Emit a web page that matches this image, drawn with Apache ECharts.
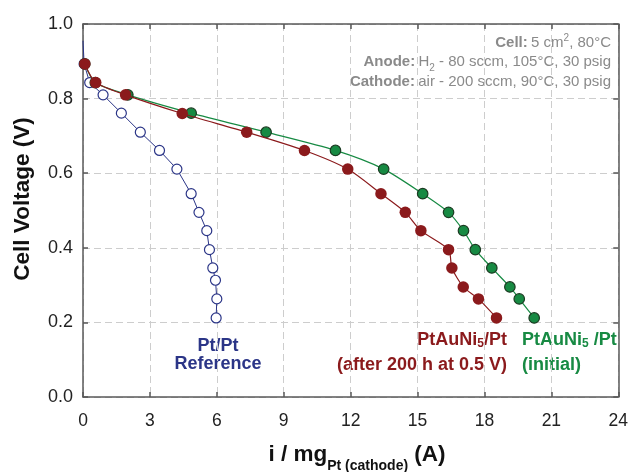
<!DOCTYPE html>
<html>
<head>
<meta charset="utf-8">
<script src="https://cdn.jsdelivr.net/npm/echarts@6/dist/echarts.min.js"></script>
<style>
html,body{margin:0;padding:0;background:#fff;}
#c{width:631px;height:472px;}
</style>
</head>
<body>
<div id="c"></div>
<script>
// ---- data ----
var xTicks = [0, 3, 6, 9, 12, 15, 18, 21, 24];
var yTicks = [0.0, 0.2, 0.4, 0.6, 0.8, 1.0];

// Pt/Pt reference (open circles)
var refX = [0.0, 0.05, 0.30, 0.90, 1.72, 2.57, 3.43, 4.21, 4.85, 5.20, 5.55, 5.67, 5.82, 5.94, 6.00, 5.97];
var refV = [0.955, 0.893, 0.843, 0.810, 0.761, 0.710, 0.661, 0.611, 0.545, 0.495, 0.446, 0.395, 0.346, 0.313, 0.263, 0.212];

// PtAuNi5/Pt initial (green)
var iniX = [0.08, 0.55, 2.01, 4.85, 8.21, 11.32, 13.48, 15.23, 16.39, 17.06, 17.59, 18.33, 19.14, 19.56, 20.23];
var iniV = [0.893, 0.843, 0.810, 0.761, 0.710, 0.661, 0.611, 0.545, 0.495, 0.446, 0.395, 0.346, 0.295, 0.263, 0.212];

// PtAuNi5/Pt after 200 h at 0.5 V (dark red)
var agedX = [0.08, 0.57, 1.91, 4.45, 7.34, 9.93, 11.87, 13.36, 14.45, 15.15, 16.39, 16.54, 17.05, 17.73, 18.54];
var agedV = [0.893, 0.843, 0.810, 0.760, 0.710, 0.661, 0.611, 0.545, 0.495, 0.446, 0.395, 0.346, 0.295, 0.263, 0.212];

function pairs(xs, ys) { return xs.map(function (x, i) { return [x, ys[i]]; }); }

var NAVY = '#2b3587', RED = '#8b1a1c', GREEN = '#178a43';
var FONT = '"Liberation Sans", Arial, Helvetica, sans-serif';
var FRAME = '#5a5a5a';
var NOTE = '#8a8a8a';

var refData = pairs(refX, refV).map(function (p, i) {
  return i === 0 ? { value: p, symbol: 'none' } : p;
});

var chart = echarts.init(document.getElementById('c'), null, { renderer: 'canvas' });

var axisCommon = {
  type: 'value',
  axisLine: { show: true, onZero: false, lineStyle: { color: FRAME, width: 1.5 } },
  axisTick: { show: true, inside: true, length: 5, lineStyle: { color: FRAME, width: 1.5 } },
  splitLine: { show: false }
};

var noteRich = {
  b: { fontSize: 15, fontWeight: 'bold', fontFamily: FONT, fill: NOTE, lineHeight: 19 },
  n: { fontSize: 15, fontFamily: FONT, fill: NOTE, lineHeight: 19 },
  p: { fontSize: 10, fontFamily: FONT, fill: NOTE, lineHeight: 11, verticalAlign: 'top' },
  s: { fontSize: 10, fontFamily: FONT, fill: NOTE, lineHeight: 11, verticalAlign: 'bottom', padding: [0, 0, -2, 0] }
};

function labelRich(color) {
  return {
    a: { fontSize: 18, fontWeight: 'bold', fontFamily: FONT, fill: color, lineHeight: 25 },
    s: { fontSize: 12, fontWeight: 'bold', fontFamily: FONT, fill: color, lineHeight: 12, verticalAlign: 'bottom', padding: [0, 0, 3, 0] }
  };
}

var option = {
  animation: false,
  backgroundColor: '#fff',
  grid: { left: 83, right: 12, top: 24, bottom: 75, containLabel: false },
  xAxis: [
    Object.assign({}, axisCommon, {
      position: 'bottom', min: xTicks[0], max: xTicks[xTicks.length - 1], interval: 3,
      axisLabel: { show: true, color: '#222', fontSize: 17.5, fontFamily: FONT, margin: 15 },
      splitLine: { show: true, lineStyle: { color: '#cdcdcd', width: 1, type: [7, 4] } }
    }),
    Object.assign({}, axisCommon, {
      position: 'top', min: xTicks[0], max: xTicks[xTicks.length - 1], interval: 3,
      axisLabel: { show: false }
    })
  ],
  yAxis: [
    Object.assign({}, axisCommon, {
      position: 'left', min: yTicks[0], max: yTicks[yTicks.length - 1], interval: 0.2,
      axisLabel: { show: true, color: '#222', fontSize: 18, fontFamily: FONT, margin: 10,
        formatter: function (v) { return v.toFixed(1); } },
      splitLine: { show: true, lineStyle: { color: '#cdcdcd', width: 1, type: [7, 4] } }
    }),
    Object.assign({}, axisCommon, {
      position: 'right', min: yTicks[0], max: yTicks[yTicks.length - 1], interval: 0.2,
      axisLabel: { show: false }
    })
  ],
  series: [
    {
      name: 'Pt/Pt Reference', type: 'line', data: refData, z: 2,
      symbol: 'circle', symbolSize: 10, showAllSymbol: true,
      itemStyle: { color: '#fff', borderColor: NAVY, borderWidth: 1.2 },
      lineStyle: { color: NAVY, width: 1 }
    },
    {
      name: 'PtAuNi5/Pt (initial)', type: 'line', data: pairs(iniX, iniV), z: 3,
      smooth: 0.25, symbol: 'circle', symbolSize: 10.5, showAllSymbol: true,
      itemStyle: { color: GREEN, borderColor: '#1b3b22', borderWidth: 1.2 },
      lineStyle: { color: GREEN, width: 1.2 }
    },
    {
      name: 'PtAuNi5/Pt (after 200 h at 0.5 V)', type: 'line', data: pairs(agedX, agedV), z: 4,
      smooth: 0.25, symbol: 'circle', symbolSize: 11.5, showAllSymbol: true,
      itemStyle: { color: RED, borderColor: RED, borderWidth: 0 },
      lineStyle: { color: RED, width: 1.2 }
    }
  ],
  graphic: [
    // Y axis title
    {
      type: 'text', x: 23, y: 199, rotation: Math.PI / 2,
      style: { text: 'Cell Voltage (V)', font: 'bold 22.5px ' + FONT, fill: '#111',
        align: 'center', verticalAlign: 'middle' }
    },
    // X axis title
    {
      type: 'text', x: 357, y: 455,
      style: {
        text: '{a|i / mg}{s|Pt (cathode)}{a| (A)}',
        align: 'center', verticalAlign: 'middle',
        rich: {
          a: { fontSize: 22.5, fontWeight: 'bold', fontFamily: FONT, fill: '#111', lineHeight: 28 },
          s: { fontSize: 14, fontWeight: 'bold', fontFamily: FONT, fill: '#111', lineHeight: 15, verticalAlign: 'bottom', padding: [0, 0, -4, 0] }
        }
      }
    },
    // Conditions box
    {
      type: 'text', x: 611, y: 43,
      style: { text: '{b|Cell:} {n|5 cm}{p|2}{n|, 80°C}', align: 'right', verticalAlign: 'middle', rich: noteRich }
    },
    {
      type: 'text', x: 611, y: 62,
      style: { text: '{b|Anode:} {n|H}{s|2}{n| - 80 sccm, 105°C, 30 psig}', align: 'right', verticalAlign: 'middle', rich: noteRich }
    },
    {
      type: 'text', x: 611, y: 82,
      style: { text: '{b|Cathode:} {n|air - 200 sccm, 90°C, 30 psig}', align: 'right', verticalAlign: 'middle', rich: noteRich }
    },
    // Series labels
    {
      type: 'text', x: 218, y: 355,
      style: { text: 'Pt/Pt\nReference', font: 'bold 18px ' + FONT, fill: NAVY,
        align: 'center', verticalAlign: 'middle', lineHeight: 18 }
    },
    {
      type: 'text', x: 507, y: 353,
      style: { text: '{a|PtAuNi}{s|5}{a|/Pt}\n{a|(after 200 h at 0.5 V)}', align: 'right', verticalAlign: 'middle', rich: labelRich(RED) }
    },
    {
      type: 'text', x: 522, y: 353,
      style: { text: '{a|PtAuNi}{s|5}{a| /Pt}\n{a|(initial)}', align: 'left', verticalAlign: 'middle', rich: labelRich(GREEN) }
    }
  ]
};

chart.setOption(option);
</script>
</body>
</html>
